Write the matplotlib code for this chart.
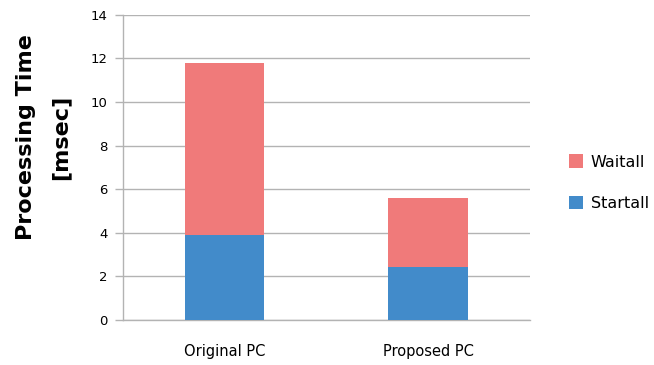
import matplotlib
matplotlib.use("Agg")
import matplotlib.pyplot as plt
import numpy as np

categories = ["Original PC", "Proposed PC"]
startall = [3.9, 2.45]
waitall = [7.87, 3.17]
y_ticks = [0, 2, 4, 6, 8, 10, 12, 14]

c_start = "#428BCA"
c_wait = "#F07A7A"
grid_c = "#B3B3B3"

fig = plt.figure(figsize=(6.54, 3.65), dpi=100)
ax = fig.add_axes([0.188, 0.1233, 0.622, 0.836])

x = np.arange(len(categories))
ax.bar(x, startall, width=0.39, color=c_start, label="Startall", zorder=3)
ax.bar(x, waitall, width=0.39, bottom=startall, color=c_wait, label="Waitall", zorder=3)

ax.set_xlim(-0.5, 1.5)
ax.set_ylim(0, 14)
ax.set_yticks(y_ticks)
ax.set_yticklabels([str(t) for t in y_ticks], fontsize=9.5)
ax.set_xticks(x)
ax.set_xticklabels(categories, fontsize=10.5)
ax.tick_params(axis="x", length=0, pad=17)
ax.tick_params(axis="y", length=6, color=grid_c, width=1, pad=5)
ax.yaxis.grid(True, color=grid_c, linewidth=1, zorder=0)
ax.set_axisbelow(True)

for side in ["top", "right"]:
    ax.spines[side].set_visible(False)
for side in ["left", "bottom"]:
    ax.spines[side].set_color(grid_c)
    ax.spines[side].set_linewidth(1)

# y-axis title placed slightly above the axes centre
fig.text(0.066, 0.625, "Processing Time\n[msec]", rotation=90, ha="center",
         va="center", fontsize=16, fontweight="bold", linespacing=1.9,
         multialignment="center")

handles, labels = ax.get_legend_handles_labels()
leg = ax.legend(handles[::-1], labels[::-1], loc="center left",
                bbox_to_anchor=(1.06, 0.45), frameon=False, fontsize=11.5,
                handlelength=0.9, handleheight=0.9, labelspacing=1.65,
                handletextpad=0.5)

fig.savefig("out.png", dpi=100)
